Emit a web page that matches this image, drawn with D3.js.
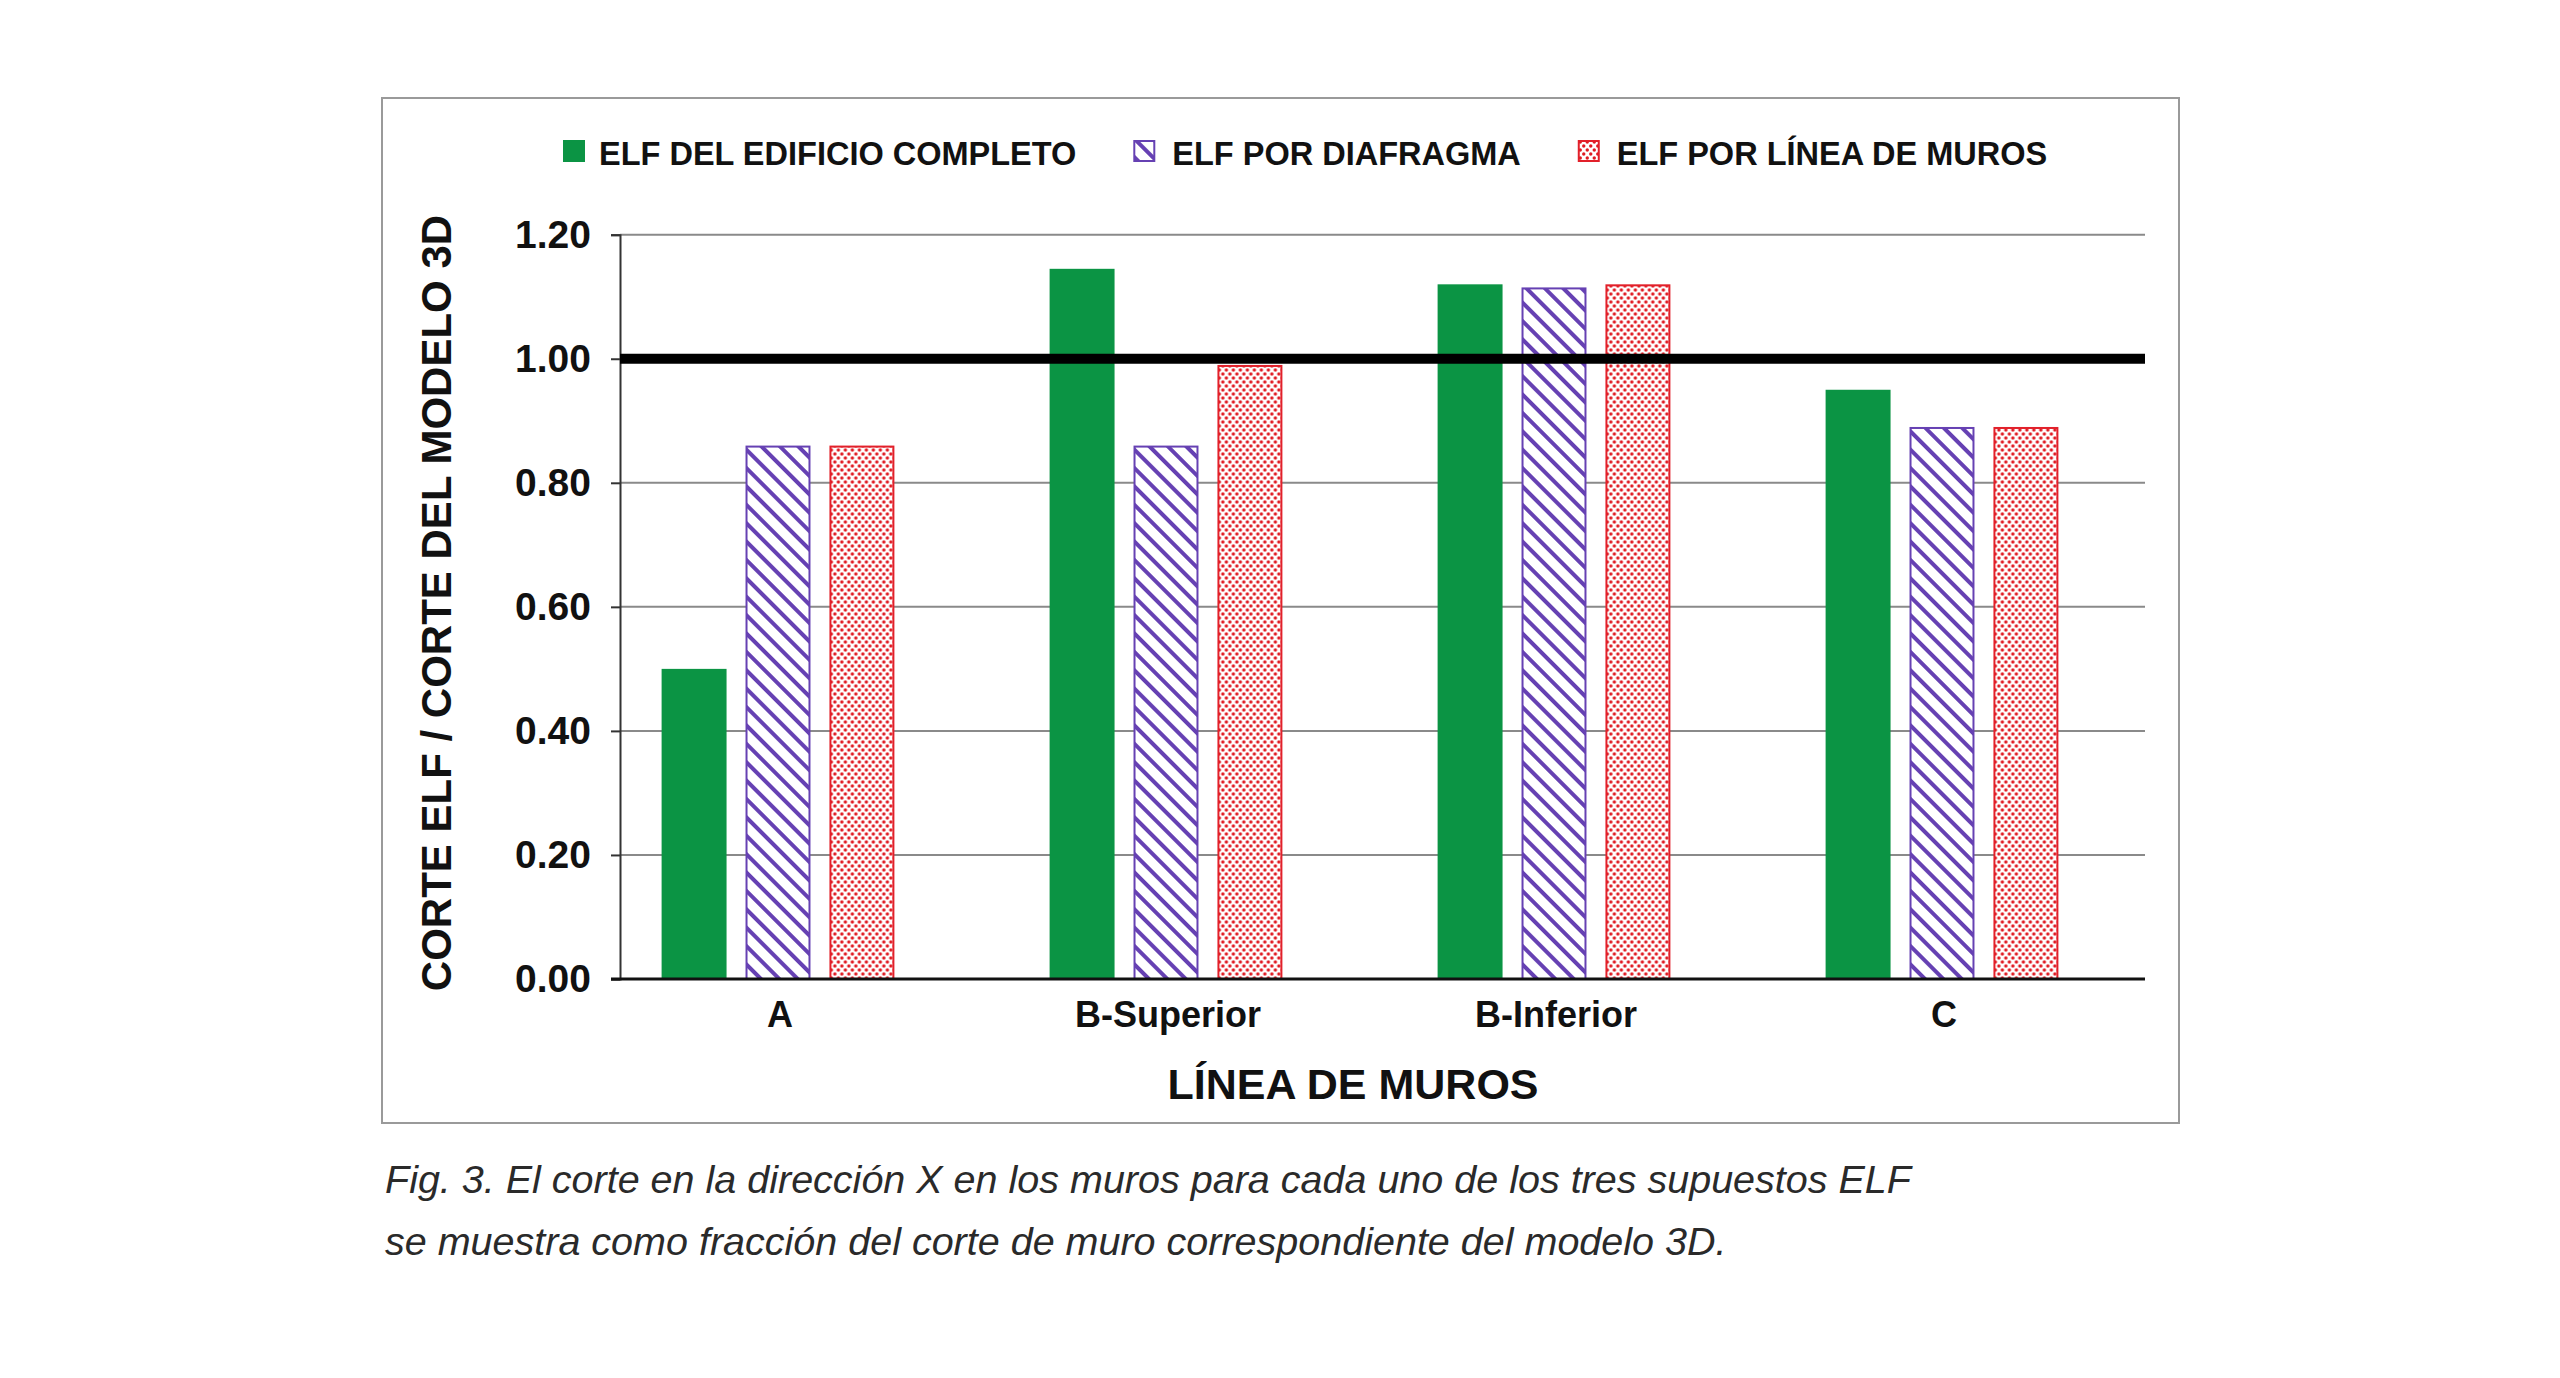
<!DOCTYPE html>
<html>
<head>
<meta charset="utf-8">
<script src="https://cdn.jsdelivr.net/npm/d3@7"></script>
<style>
  body { margin: 0; background: #fff; }
  svg { display: block; }
</style>
</head>
<body>
<svg id="chart" width="2560" height="1378"></svg>
<script>
// --- data ---
const categories = ["A", "B-Superior", "B-Inferior", "C"];
const seriesNames = ["ELF DEL EDIFICIO COMPLETO", "ELF POR DIAFRAGMA", "ELF POR LÍNEA DE MUROS"];
const edificioCompleto = [0.50, 1.145, 1.12, 0.95];
const porDiafragma = [0.86, 0.86, 1.115, 0.89];
const porLineaMuros = [0.86, 0.99, 1.12, 0.89];
const yTicks = [0, 0.2, 0.4, 0.6, 0.8, 1.0, 1.2];
const referenceValue = 1.0;
const yTitle = "CORTE ELF / CORTE DEL MODELO 3D";
const xTitle = "LÍNEA DE MUROS";
const captionLines = [
  "Fig. 3. El corte en la dirección X en los muros para cada uno de los tres supuestos ELF",
  "se muestra como fracción del corte de muro correspondiente del modelo 3D."
];

const seriesValues = [edificioCompleto, porDiafragma, porLineaMuros];
const fills = ["#0b9444", "url(#stripes)", "url(#dots)"];
const strokes = ["none", "#6641b3", "#e2202a"];

const svg = d3.select("#chart");
const font = "'Liberation Sans', Arial, Helvetica, sans-serif";

// patterns
const defs = svg.append("defs");
const stripes = defs.append("pattern")
    .attr("id", "stripes")
    .attr("patternUnits", "userSpaceOnUse")
    .attr("width", 13).attr("height", 13)
    .attr("patternTransform", "rotate(-45)");
stripes.append("rect").attr("width", 13).attr("height", 13).attr("fill", "#fff");
stripes.append("rect").attr("x", 0).attr("width", 4).attr("height", 13).attr("fill", "#6641b3");

const dots = defs.append("pattern")
    .attr("id", "dots")
    .attr("patternUnits", "userSpaceOnUse")
    .attr("width", 7).attr("height", 8);
dots.append("rect").attr("width", 7).attr("height", 8).attr("fill", "#fff");
dots.append("circle").attr("cx", 1.75).attr("cy", 2).attr("r", 1.7).attr("fill", "#e01a22");
dots.append("circle").attr("cx", 5.25).attr("cy", 6).attr("r", 1.7).attr("fill", "#e01a22");

// frame
svg.append("rect")
    .attr("x", 382).attr("y", 98)
    .attr("width", 1797).attr("height", 1025)
    .attr("fill", "#fff")
    .attr("stroke", "#9a9a9a")
    .attr("stroke-width", 2);

// scales
const plotLeft = 620, plotRight = 2145;
const y = d3.scaleLinear().domain([0, 1.2]).range([979, 234.7]);
const x = d3.scaleBand().domain(categories).range([584, 2136])
    .paddingInner(0.4).paddingOuter(0.2);
const xs = d3.scaleBand().domain(d3.range(seriesNames.length))
    .range([0, x.bandwidth()]).paddingInner(0.226);

// gridlines
svg.append("g")
  .selectAll("line")
  .data(yTicks.filter(d => d > 0))
  .join("line")
    .attr("x1", plotLeft).attr("x2", plotRight)
    .attr("y1", d => y(d)).attr("y2", d => y(d))
    .attr("stroke", "#8a8a8a")
    .attr("stroke-width", 2);

// bars
const rows = categories.map((c, i) => seriesValues.map((vals, s) => ({ cat: c, s: s, v: vals[i] })));
svg.append("g")
  .selectAll("g")
  .data(rows)
  .join("g")
    .attr("transform", d => `translate(${x(d[0].cat)},0)`)
  .selectAll("rect")
  .data(d => d)
  .join("rect")
    .attr("x", d => xs(d.s) + (d.s ? 1 : 0))
    .attr("y", d => y(d.v) + (d.s ? 1 : 0))
    .attr("width", d => xs.bandwidth() - (d.s ? 2 : 0))
    .attr("height", d => y(0) - y(d.v) - (d.s ? 1 : 0))
    .attr("fill", d => fills[d.s])
    .attr("stroke", d => strokes[d.s])
    .attr("stroke-width", 2);

// y axis
const yAxis = svg.append("g")
    .attr("transform", `translate(${plotLeft},0)`)
    .call(d3.axisLeft(y).tickValues(yTicks).tickFormat(d3.format(".2f")).tickSize(9).tickPadding(20));
yAxis.select(".domain").attr("stroke", "#333").attr("stroke-width", 2);
yAxis.selectAll(".tick line").attr("stroke", "#333").attr("stroke-width", 2);
yAxis.selectAll(".tick text")
    .attr("font-family", font).attr("font-weight", "bold")
    .attr("font-size", 39).attr("fill", "#111");

// x axis line (baseline)
svg.append("line")
    .attr("x1", 611).attr("x2", plotRight)
    .attr("y1", y(0)).attr("y2", y(0))
    .attr("stroke", "#111").attr("stroke-width", 3);

// x tick labels
svg.append("g")
  .selectAll("text")
  .data(categories)
  .join("text")
    .attr("x", d => x(d) + x.bandwidth() / 2 + 2)
    .attr("y", 1027)
    .attr("text-anchor", "middle")
    .attr("font-family", font).attr("font-weight", "bold")
    .attr("font-size", 36).attr("fill", "#111")
    .text(d => d);

// reference line at 1.0
svg.append("line")
    .attr("x1", plotLeft).attr("x2", plotRight)
    .attr("y1", y(referenceValue)).attr("y2", y(referenceValue))
    .attr("stroke", "#000").attr("stroke-width", 10);

// axis titles
svg.append("text")
    .attr("transform", "translate(451,603) rotate(-90)")
    .attr("text-anchor", "middle")
    .attr("font-family", font).attr("font-weight", "bold")
    .attr("font-size", 42).attr("fill", "#111")
    .text(yTitle);

svg.append("text")
    .attr("x", 1353).attr("y", 1099)
    .attr("text-anchor", "middle")
    .attr("font-family", font).attr("font-weight", "bold")
    .attr("font-size", 43).attr("fill", "#111")
    .text(xTitle);

// legend
const legend = svg.append("g");
let lx = 563;
seriesNames.forEach((name, s) => {
  legend.append("rect")
      .attr("x", lx + (s ? 1 : 0)).attr("y", 140 + (s ? 1 : 0))
      .attr("width", 22 - (s ? 2 : 0)).attr("height", 22 - (s ? 2 : 0))
      .attr("fill", fills[s])
      .attr("stroke", strokes[s]).attr("stroke-width", 2);
  const t = legend.append("text")
      .attr("x", lx + (s ? 39 : 36)).attr("y", 165)
      .attr("font-family", font).attr("font-weight", "bold")
      .attr("font-size", 32.5).attr("fill", "#111")
      .text(name);
  lx += (s ? 39 : 36) + t.node().getComputedTextLength() + 57;
});

// caption
svg.append("g")
  .selectAll("text")
  .data(captionLines)
  .join("text")
    .attr("x", 385)
    .attr("y", (d, i) => 1193 + i * 62)
    .attr("font-family", font).attr("font-style", "italic")
    .attr("font-size", 39.5).attr("fill", "#2a2a2a")
    .text(d => d);
</script>
</body>
</html>
